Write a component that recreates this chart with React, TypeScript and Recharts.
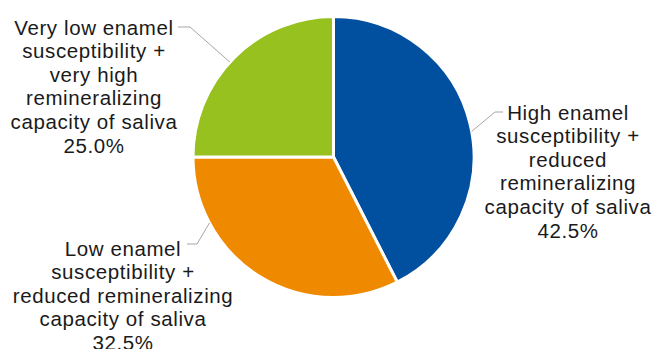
import { PieChart, Pie, Cell } from "recharts";

// label text, one entry per slice (clockwise from 12 o'clock)
const categories = [
  ["High enamel", "susceptibility +", "reduced", "remineralizing", "capacity of saliva"],
  ["Low enamel", "susceptibility +", "reduced remineralizing", "capacity of saliva"],
  ["Very low enamel", "susceptibility +", "very high", "remineralizing", "capacity of saliva"],
];
const shares = [42.5, 32.5, 25.0];
const colors = ["#00509F", "#EF8900", "#96C11F"];

// label placement relative to pie centre (layout only, not data)
const labelLayout = [
  { angle: 10.5, elbow: [161.5, -45], end: [169.5, -45], text: [234.5, -45] },
  { angle: -152, elbow: [-136.5, 87], end: [-146.5, 87], text: [-210.5, 91] },
  { angle: 137.5, elbow: [-143.5, -130], end: [-155.5, -130], text: [-239.5, -130] },
];

const data = shares.map((v, i) => ({ name: categories[i].join(" "), value: v }));

const LINE_H = 23.6;
const RADIAN = Math.PI / 180;

const renderLabel = (props: any) => {
  const { cx, cy, outerRadius, index, value } = props;
  const l = labelLayout[index];
  const sx = cx + outerRadius * Math.cos(l.angle * RADIAN);
  const sy = cy - outerRadius * Math.sin(l.angle * RADIAN);
  const lines = [...categories[index], `${Number(value).toFixed(1)}%`];
  const tx = cx + l.text[0];
  const ty = cy + l.text[1];
  return (
    <g key={`lbl-${index}`}>
      <polyline
        points={`${sx},${sy} ${cx + l.elbow[0]},${cy + l.elbow[1]} ${cx + l.end[0]},${cy + l.end[1]}`}
        fill="none"
        stroke="#A6A6A6"
        strokeWidth={1}
      />
      <text
        x={tx}
        y={ty}
        textAnchor="middle"
        fill="#1A1A1A"
        fontSize={20.5}
        letterSpacing={0.6}
        fontFamily="'Liberation Sans', Arial, sans-serif"
      >
        {lines.map((t, i) => (
          <tspan key={i} x={tx} y={ty + i * LINE_H} dominantBaseline="central">
            {t}
          </tspan>
        ))}
      </text>
    </g>
  );
};

export default function App() {
  return (
    <div style={{ position: "absolute", left: 0, top: 0, width: 653, height: 349, background: "#fff" }}>
      <PieChart width={653} height={349} margin={{ top: 0, right: 0, bottom: 0, left: 0 }}>
        <Pie
          data={data}
          dataKey="value"
          nameKey="name"
          cx={333.5}
          cy={157}
          outerRadius={140.5}
          startAngle={90}
          endAngle={-270}
          stroke="#FFFFFF"
          strokeWidth={3}
          label={renderLabel}
          labelLine={false}
          isAnimationActive={false}
        >
          {data.map((d, i) => (
            <Cell key={d.name} fill={colors[i]} />
          ))}
        </Pie>
      </PieChart>
    </div>
  );
}
